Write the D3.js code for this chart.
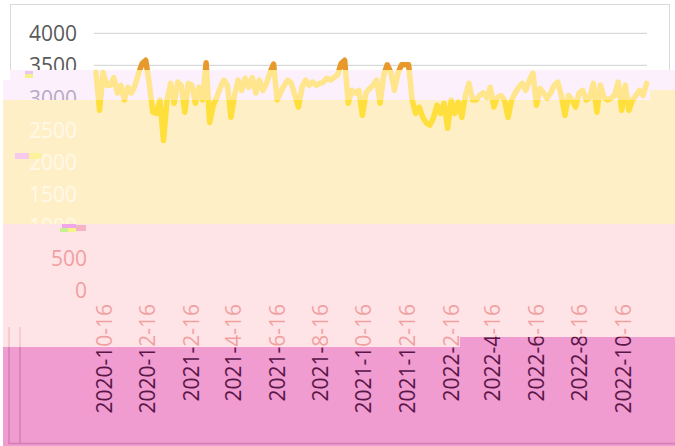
<!DOCTYPE html>
<html>
<head>
<meta charset="utf-8">
<script src="https://cdn.jsdelivr.net/npm/d3@7"></script>
<style>
body{margin:0;background:#fff}
text{font-family:"Open Sans","Noto Sans",sans-serif}
</style>
</head>
<body>
<div id="chart"></div>
<script>
// series: one reading every 5 days starting from startDate
const startDate = "2020-10-05"
const stepDays = 5
const values = [3390,2800,3390,3190,3190,3310,3070,3190,2960,3160,
 3070,3190,3380,3530,3580,3220,2770,2750,2960,2330,
 2960,3220,2910,3240,3190,2770,3220,3190,2910,3160,
 2960,3540,2610,2880,3000,3160,3270,3190,2690,3030,
 3270,3110,3300,3160,3310,3070,3270,3110,3220,3390,
 3520,2960,3080,3190,3270,3220,3030,2850,3160,3270,
 3190,3240,3190,3220,3240,3300,3270,3310,3350,3530,
 3580,2910,3110,3070,3110,2720,3070,3140,3190,3270,
 2910,3350,3510,3390,3110,3380,3510,3510,3510,2960,
 2750,2850,2690,2600,2570,2680,2880,2750,2910,2520,
 2960,2750,2930,2690,3030,3220,2960,2960,3030,3070,
 3000,3160,2850,3000,3030,2960,2690,2960,3070,3160,
 3220,3110,3270,3380,2880,3140,3070,2990,3070,3190,
 3240,3030,2720,3030,2960,2850,3070,3110,2960,3000,
 3220,2770,3190,3000,2960,2990,3030,3240,2800,3190,
 2800,2960,3030,3110,3030,3220]

const yTicks = [0,500,1000,1500,2000,2500,3000,3500,4000]
const xTickLabels = ["2020-10-16","2020-12-16","2021-2-16","2021-4-16","2021-6-16","2021-8-16",
  "2021-10-16","2021-12-16","2022-2-16","2022-4-16","2022-6-16","2022-8-16","2022-10-16"]

const width = 675, height = 446
const parse = d3.timeParse("%Y-%m-%d")
const t0 = parse(startDate)
const data = values.map((v, i) => ({date: d3.timeDay.offset(t0, i * stepDays), value: v}))
const xTickDates = xTickLabels.map(s => parse(s))

const x = d3.scaleTime()
    .domain(d3.extent(data, d => d.date))
    .range([96, 646.6])
const y = d3.scaleLinear()
    .domain([0, 4000])
    .range([290, 33.3])

const line = d3.line()
    .x(d => x(d.date))
    .y(d => y(d.value))

const svg = d3.select("#chart").append("svg")
    .attr("width", width)
    .attr("height", height)

svg.append("rect").attr("width", width).attr("height", height).attr("fill", "#fff")

// the picture is cut in colour bands, each one repaints the chart in its own tint
const layers = [
  {id: "base", text: "#595959", grid: "#d9d9d9", line: "#e8992b", labels: [3500, 4000]},
  {id: "bandA", bg: "#fcf0fc", text: "#b7a8c6", line: "#ffe68c", labels: [3000],
   poly: [[3,80],[10,80],[10,70],[675,70],[675,90],[650,90],[650,100],[3,100]]},
  {id: "bandB", bg: "#ffefc6", text: "#fff9ea", line: "#ffdf3c", labels: [1000, 1500, 2000, 2500],
   poly: [[3,100],[650,100],[650,90],[675,90],[675,224],[3,224]]},
  {id: "bandC", bg: "#ffe4e7", text: "#f0a0a0", labels: [0, 500], yShift: 10, edge: "#f3c3cc",
   poly: [[3,224],[675,224],[675,337],[460,337],[460,347],[3,347]]},
  {id: "bandD", bg: "#f09cd0", text: "#5a1646", labels: [], edge: "#d27fb3",
   poly: [[3,347],[460,347],[460,337],[675,337],[675,446],[3,446]]}
]

const defs = svg.append("defs")

function drawLayer(L) {
  let g = svg.append("g").attr("class", L.id)
  if (L.poly) {
    defs.append("clipPath").attr("id", "clip-" + L.id)
      .append("polygon").attr("points", L.poly.map(p => p.join(",")).join(" "))
    g.attr("clip-path", `url(#clip-${L.id})`)
    g.append("rect").attr("width", width).attr("height", height).attr("fill", L.bg)
  } else {
    g.append("rect")
      .attr("x", 10.5).attr("y", 4.5)
      .attr("width", 659).attr("height", 438)
      .attr("fill", "none")
      .attr("stroke", "#d9d9d9")
  }

  if (L.grid) {
    g.append("g").selectAll("line")
      .data(yTicks)
      .join("line")
        .attr("x1", 94).attr("x2", 647)
        .attr("y1", d => y(d)).attr("y2", d => y(d))
        .attr("stroke", L.grid)
        .attr("stroke-width", 1.3)
  }

  if (L.edge) {
    g.append("path")
      .attr("d", "M9,327V443.5H675M20,327V443.5")
      .attr("fill", "none")
      .attr("stroke", L.edge)
      .attr("stroke-width", 1.5)
  }

  if (L.labels.length) {
    let yAxis = g.append("g")
        .attr("transform", `translate(${77 + (L.yShift || 0)},0)`)
        .call(d3.axisLeft(y).tickValues(L.labels).tickSize(0).tickPadding(0).tickFormat(d3.format("d")))
    yAxis.select(".domain").remove()
    yAxis.selectAll("text")
        .style("font-size", "21px")
        .attr("fill", L.text)
        .attr("dy", "0.36em")
  }

  if (L.line) {
    g.append("path")
      .datum(data)
      .attr("d", line)
      .attr("fill", "none")
      .attr("stroke", L.line)
      .attr("stroke-width", 5.5)
      .attr("stroke-linejoin", "round")
      .attr("stroke-linecap", "round")
  }
}

layers.forEach(drawLayer)

// x labels cross two bands: a hard-stop gradient in each label's own rotated space
// local x runs upward on screen, 0 at y=304, -100 at y=404
function bandGradient(id, cut) {
  let gr = defs.append("linearGradient").attr("id", id)
    .attr("gradientUnits", "userSpaceOnUse")
    .attr("x1", 0).attr("y1", 0).attr("x2", -100).attr("y2", 0)
  let off = (cut - 304) / 100
  gr.append("stop").attr("offset", 0).attr("stop-color", "#f0a0a0")
  gr.append("stop").attr("offset", off).attr("stop-color", "#f0a0a0")
  gr.append("stop").attr("offset", off).attr("stop-color", "#5a1646")
  gr.append("stop").attr("offset", 1).attr("stop-color", "#5a1646")
}
bandGradient("lab-left", 347)
bandGradient("lab-right", 337)

let xAxis = svg.append("g")
    .attr("transform", "translate(0,304)")
    .call(d3.axisBottom(x).tickValues(xTickDates).tickSize(0).tickFormat((d, i) => xTickLabels[i]))
xAxis.select(".domain").remove()
xAxis.selectAll("text")
    .attr("transform", "rotate(-90)")
    .attr("x", 0)
    .attr("y", 0)
    .attr("dy", "0.36em")
    .style("text-anchor", "end")
    .style("font-size", "21px")
    .attr("fill", d => x(d) < 460 ? "url(#lab-left)" : "url(#lab-right)")

// small broken pixel blocks left along the left side
const specks = [
  {x: 25, y: 71, w: 8, h: 3, c: "#e9c6f0"}, {x: 25, y: 74, w: 8, h: 4, c: "#f7f08a"},
  {x: 15, y: 153, w: 14, h: 6, c: "#f7c9ec"}, {x: 29, y: 153, w: 12, h: 6, c: "#fbf29a"},
  {x: 62, y: 224, w: 14, h: 4, c: "#f0a6e8"}, {x: 60, y: 228, w: 8, h: 4, c: "#c8f090"},
  {x: 68, y: 228, w: 8, h: 4, c: "#f6f28a"}, {x: 76, y: 225, w: 10, h: 6, c: "#f4b4c4"}
]
svg.append("g").selectAll("rect")
  .data(specks)
  .join("rect")
    .attr("x", d => d.x).attr("y", d => d.y)
    .attr("width", d => d.w).attr("height", d => d.h)
    .attr("fill", d => d.c)
</script>
</body>
</html>
